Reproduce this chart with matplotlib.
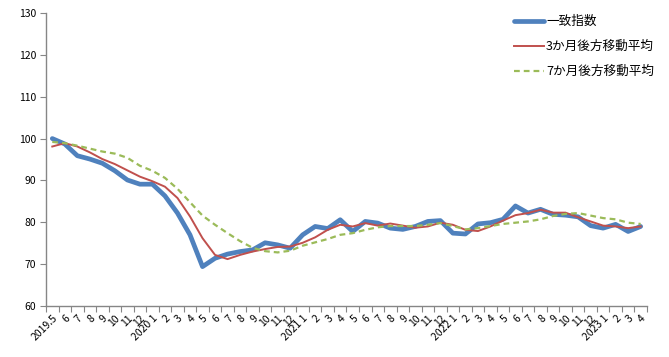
import numpy as np
import matplotlib
matplotlib.use('Agg')
import matplotlib.pyplot as plt

plt.rcParams['font.family'] = ['Noto Sans CJK JP', 'DejaVu Sans']

# ── Data ───────────────────────────────────────────────────────────────────
months = ['2019.5', '6', '7', '8', '9', '10', '11', '12',
          '2020 1', '2', '3', '4', '5', '6', '7', '8', '9', '10', '11', '12',
          '2021 1', '2', '3', '4', '5', '6', '7', '8', '9', '10', '11', '12',
          '2022 1', '2', '3', '4', '5', '6', '7', '8', '9', '10', '11', '12',
          '2023 1', '2', '3', '4']

coincident = [100.0, 98.7, 95.9, 95.1, 94.1, 92.3, 90.1, 89.1,
              89.1, 86.3, 82.2, 77.0, 69.4, 71.4, 72.4, 73.0, 73.4, 75.1, 74.6, 73.8,
              77.0, 79.0, 78.5, 80.6, 77.8, 80.2, 79.8, 78.6, 78.3, 79.0, 80.2, 80.4,
              77.4, 77.2, 79.6, 79.9, 80.7, 83.9, 82.2, 83.1, 81.9, 81.7, 81.3, 79.2,
              78.6, 79.5, 77.8, 79.0]

ma3 = [98.1, 98.9, 98.1, 96.7, 95.1, 93.9, 92.4, 90.9,
       89.8, 88.5, 85.8, 81.4, 76.2, 72.2, 71.2, 72.2, 73.0, 73.6, 74.1, 74.2,
       75.1, 76.4, 78.2, 79.4, 79.0, 79.8, 79.2, 79.7, 79.2, 78.7, 79.0, 79.9,
       79.4, 78.2, 77.9, 79.0, 80.4, 81.7, 82.2, 83.0, 82.3, 82.3, 81.2, 80.2,
       79.2, 79.0, 78.6, 79.0]

ma7 = [99.2, 98.9, 98.3, 97.6, 96.9, 96.4, 95.4, 93.5,
       92.3, 90.6, 88.0, 84.8, 81.6, 79.4, 77.4, 75.5, 73.9, 73.1, 72.8, 73.2,
       74.4, 75.2, 76.0, 77.0, 77.4, 78.2, 78.8, 79.1, 79.1, 79.1, 79.4, 79.8,
       79.1, 78.3, 78.6, 79.1, 79.6, 79.9, 80.2, 80.7, 81.5, 82.0, 82.2, 81.6,
       81.0, 80.7, 79.9, 79.6]

labels = ['一致指数', '3か月後方移動平均', '7か月後方移動平均']

# ── Plot ───────────────────────────────────────────────────────────────────
fig = plt.figure(figsize=(6.69, 3.57), dpi=100)
ax = fig.add_axes([0.0688, 0.1429, 0.8982, 0.8207])

x = np.arange(len(months))
ax.plot(x, coincident, color='#4F81BD', linewidth=3.4, solid_capstyle='round',
        label=labels[0])
ax.plot(x, ma3, color='#C0504D', linewidth=1.4, label=labels[1])
ax.plot(x, ma7, color='#9BBB59', linewidth=1.6, linestyle=(0, (2.6, 1.8)),
        label=labels[2])

ax.set_xlim(-0.5, len(months) - 0.5)
ax.set_ylim(60, 130)
ax.set_yticks(np.arange(60, 131, 10))

for side in ['top', 'right']:
    ax.spines[side].set_visible(False)
for side in ['left', 'bottom']:
    ax.spines[side].set_color('#868686')
    ax.spines[side].set_linewidth(1.0)

ax.tick_params(axis='y', direction='out', length=4, color='#868686',
               labelsize=7.5, pad=3)
ax.set_xticks(np.arange(-0.5, len(months), 1.0))
ax.set_xticklabels([])
ax.tick_params(axis='x', which='major', direction='out', length=4, color='#868686')
ax.set_xticks(x, minor=True)
ax.set_xticklabels(months, minor=True, rotation=45, ha='right',
                   rotation_mode='anchor', fontsize=7.5)
ax.tick_params(axis='x', which='minor', length=0, pad=5)

leg = ax.legend(loc='upper left', bbox_to_anchor=(0.752, 0.99),
                bbox_transform=fig.transFigure, frameon=False, fontsize=9.1,
                handlelength=2.3, handletextpad=0.2, labelspacing=0.95)

plt.savefig('out.png', dpi=100)
plt.close()
